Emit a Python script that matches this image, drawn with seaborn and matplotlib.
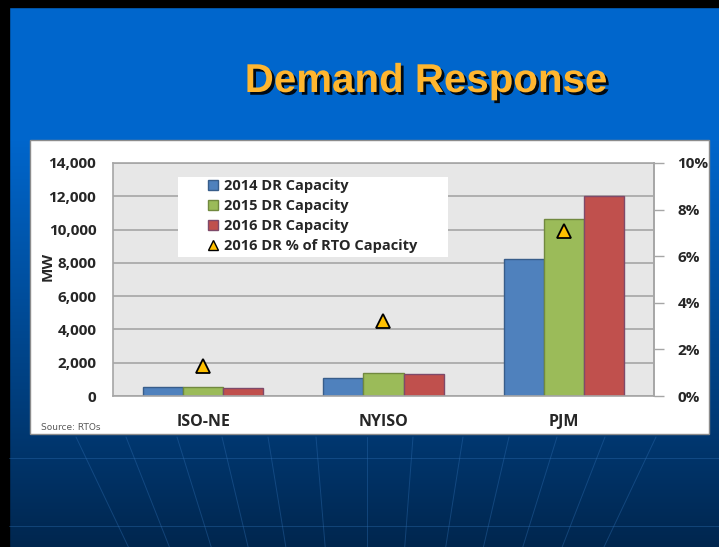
import numpy as np
import pandas as pd
import matplotlib.pyplot as plt
import seaborn as sns
import matplotlib.patheffects as pe
from matplotlib.lines import Line2D
from matplotlib.patches import Rectangle
from matplotlib.ticker import FuncFormatter, PercentFormatter, MultipleLocator

# data
categories = ['ISO-NE', 'NYISO', 'PJM']
series_names = ['2014 DR Capacity', '2015 DR Capacity', '2016 DR Capacity']
cap_2014 = [540, 1080, 8220]
cap_2015 = [550, 1380, 10620]
cap_2016 = [480, 1320, 12000]
pct_name = '2016 DR % of RTO Capacity'
pct_2016 = [0.013, 0.032, 0.071]

df = pd.DataFrame({
    'rto': categories * 3,
    'series': [s for s in series_names for _ in categories],
    'mw': cap_2014 + cap_2015 + cap_2016,
})
pct_df = pd.DataFrame({'rto': categories, 'pct': pct_2016})

bar_colors = ['#4F81BD', '#9BBB59', '#C0504D']
edge_colors = ['#385D8A', '#71893F', '#7E4A6A']
tri_color = '#FFC000'
grid_gray = '#A6A6A6'

sns.set_style('white')
plt.rcParams['font.family'] = ['Open Sans', 'DejaVu Sans']

W, H = 719, 547
fig = plt.figure(figsize=(W / 100, H / 100), dpi=100)

# slide background (pixel coordinates)
bg = fig.add_axes([0, 0, 1, 1], zorder=-10)
bg.set_xlim(0, W)
bg.set_ylim(H, 0)
bg.axis('off')
top_c = np.array([0, 102, 204]) / 255
bot_c = np.array([0, 38, 78]) / 255
t = np.clip((np.arange(H) - 140) / (H - 140), 0, 1)
grad = top_c[None, :] * (1 - t[:, None]) + bot_c[None, :] * t[:, None]
bg.imshow(grad[:, None, :], extent=(0, W, H, 0), aspect='auto')

# faint globe lines at the bottom
for xt in [76, 126, 177, 222, 268, 316, 367, 413, 463, 509, 557, 605, 656]:
    bg.plot([xt, 367 + (xt - 367) * 0.82], [437, H], color='#2E6DB0', lw=0.7, alpha=0.4)
for yh in [458, 526]:
    bg.plot([9, W], [yh, yh], color='#2E6DB0', lw=0.7, alpha=0.4)

bg.add_patch(Rectangle((0, 0), 9, H, color='black'))
bg.add_patch(Rectangle((0, 0), W, 7, color='black'))
bg.add_patch(Rectangle((30, 140), 679, 294, facecolor='white', edgecolor='#8C8C8C', lw=1))

bg.text(426, 92, 'Demand Response', ha='center', va='baseline', fontsize=29,
        fontweight='bold', family='Liberation Sans', color='#FFB62F',
        path_effects=[pe.withSimplePatchShadow(offset=(2, -2), shadow_rgbFace='black', alpha=0.9)])

# chart
ax = fig.add_axes([113 / W, 1 - 396 / H, 541 / W, 233 / H])
sns.barplot(data=df, x='rto', y='mw', hue='series', palette=bar_colors, width=0.667,
            gap=0, saturation=1, linewidth=1, ax=ax, legend=False)
for cont, ec in zip(ax.containers, edge_colors):
    for bar in cont:
        bar.set_edgecolor(ec)

ax.set_facecolor('#E7E7E7')
ax.set_ylim(0, 14000)
ax.yaxis.set_major_locator(MultipleLocator(2000))
ax.yaxis.set_major_formatter(FuncFormatter(lambda v, p: f'{v:,.0f}'))
ax.grid(axis='y', color=grid_gray, lw=1.2)
ax.set_axisbelow(True)
for sp in ax.spines.values():
    sp.set_color(grid_gray)
    sp.set_linewidth(1.2)
ax.tick_params(axis='y', length=0, pad=12, labelsize=11)
ax.tick_params(axis='x', length=0, pad=13, labelsize=11.5)
ax.set_xlabel('')
ax.set_ylabel('')

ax2 = ax.twinx()
sns.pointplot(data=pct_df, x='rto', y='pct', ax=ax2, errorbar=None, marker='^',
              linestyle='none', markersize=10, color=tri_color)
for ln in ax2.lines:
    ln.set_markerfacecolor(tri_color)
    ln.set_markeredgecolor('black')
    ln.set_markeredgewidth(1.3)
ax2.set_ylim(0, 0.10)
ax2.yaxis.set_major_locator(MultipleLocator(0.02))
ax2.yaxis.set_major_formatter(PercentFormatter(1.0, decimals=0))
ax2.tick_params(axis='y', length=7, width=1, color=grid_gray, direction='out', pad=10,
                labelsize=11)
for name, sp in ax2.spines.items():
    sp.set_visible(name == 'right')
    sp.set_color(grid_gray)
    sp.set_linewidth(1.2)
ax2.set_ylabel('')
ax2.set_xlabel('')
ax2.grid(False)
ax.set_xlim(-0.5, 2.5)

for lbl in ax.get_xticklabels() + ax.get_yticklabels() + ax2.get_yticklabels():
    lbl.set_fontweight('bold')

# legend on a white box
ax.add_patch(Rectangle((0.1201, 0.5966), 0.499, 0.3433, transform=ax.transAxes,
                       facecolor='white', edgecolor='none', zorder=1.5))
handles = [Line2D([], [], ls='none', marker='s', markersize=7.5, markerfacecolor=c,
                  markeredgecolor=e, markeredgewidth=1)
           for c, e in zip(bar_colors, edge_colors)]
handles.append(Line2D([], [], ls='none', marker='^', markersize=7, markerfacecolor=tri_color,
                      markeredgecolor='black', markeredgewidth=1))
ax2.legend(handles, series_names + [pct_name], loc='upper left',
           bbox_to_anchor=(207 / W, 1 - 179 / H), bbox_transform=fig.transFigure,
           frameon=False, prop=dict(weight='bold', size=10.5), handlelength=0.8,
           handletextpad=0.4, labelspacing=0.42, borderpad=0, borderaxespad=0)

fig.text(48 / W, 1 - 266 / H, 'MW', rotation=90, ha='center', va='center',
         fontweight='bold', fontsize=11)
fig.text(41 / W, 1 - 428 / H, 'Source: RTOs', ha='left', va='center', fontsize=6.5,
         color='#595959', family='DejaVu Sans')

fig.savefig('out.png', dpi=100)
